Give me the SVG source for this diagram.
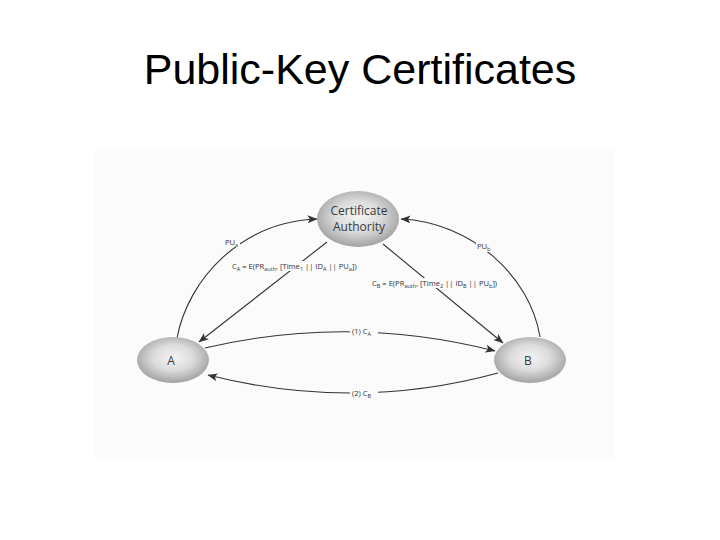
<svg xmlns="http://www.w3.org/2000/svg" width="720" height="540" viewBox="0 0 720 540">
<defs>
<radialGradient id="nodeGrad" cx="50%" cy="45%" r="55%">
<stop offset="0" stop-color="#f4f4f4"/>
<stop offset="0.5" stop-color="#dcdcdc"/>
<stop offset="1" stop-color="#a2a2a2"/>
</radialGradient>
<marker id="arr" viewBox="0 0 10 8" refX="9.5" refY="4" markerWidth="10" markerHeight="8" markerUnits="userSpaceOnUse" orient="auto">
<path d="M0,0 L10,4 L0,8 L2.5,4 Z" fill="#333"/>
</marker>
<style>
.title{font-family:"Liberation Sans",Arial,sans-serif;font-size:43px;fill:#000}
.node{fill:url(#nodeGrad)}
.ntext{font-family:"Open Sans","Liberation Sans",sans-serif;font-size:12px;fill:#3a3a3a;text-anchor:middle}
.conn{fill:none;stroke:#333;stroke-width:1.1}
.lbl{font-family:"Open Sans","Liberation Sans",sans-serif;font-size:7.6px;fill:#333}
.lbg{fill:#fbfbfb}
</style>
</defs>
<rect width="720" height="540" fill="#fff"/>
<text class="title" x="360" y="84" text-anchor="middle">Public-Key Certificates</text>
<rect x="95" y="148" width="520" height="312" fill="#fbfbfb"/>

<g id="connectors">
<path class="conn" d="M177,338 C188,280 240,222 317,219" marker-end="url(#arr)"/>
<path class="conn" d="M540,337 C530,275 470,222 401,219" marker-end="url(#arr)"/>
<path class="conn" d="M327,242 L199,342" marker-end="url(#arr)"/>
<path class="conn" d="M383,244 L503,343" marker-end="url(#arr)"/>
<path class="conn" d="M205,348 Q350,314 495,351" marker-end="url(#arr)"/>
<path class="conn" d="M498,373 Q355,412 208,375" marker-end="url(#arr)"/>
</g>

<g id="labels">
<rect class="lbg" x="224" y="237" width="16" height="10"/>
<text class="lbl" x="225" y="245">PU<tspan font-size="5.5" dy="1.5">a</tspan></text>
<rect class="lbg" x="476" y="241" width="18" height="11"/>
<text class="lbl" x="477" y="249">PU<tspan font-size="5.5" dy="1.5">b</tspan></text>
<rect class="lbg" x="231" y="261" width="134" height="10"/>
<text class="lbl" x="232" y="269">C<tspan font-size="5.5" dy="1.5">A</tspan><tspan dy="-1.5"> = E(PR</tspan><tspan font-size="5.5" dy="1.5">auth</tspan><tspan dy="-1.5">, [Time</tspan><tspan font-size="5.5" dy="1.5">1</tspan><tspan dy="-1.5"> || ID</tspan><tspan font-size="5.5" dy="1.5">A</tspan><tspan dy="-1.5"> || PU</tspan><tspan font-size="5.5" dy="1.5">a</tspan><tspan dy="-1.5">])</tspan></text>
<rect class="lbg" x="371" y="278" width="134" height="10"/>
<text class="lbl" x="372" y="286">C<tspan font-size="5.5" dy="1.5">B</tspan><tspan dy="-1.5"> = E(PR</tspan><tspan font-size="5.5" dy="1.5">auth</tspan><tspan dy="-1.5">, [Time</tspan><tspan font-size="5.5" dy="1.5">2</tspan><tspan dy="-1.5"> || ID</tspan><tspan font-size="5.5" dy="1.5">B</tspan><tspan dy="-1.5"> || PU</tspan><tspan font-size="5.5" dy="1.5">b</tspan><tspan dy="-1.5">])</tspan></text>
<rect class="lbg" x="350" y="326" width="28" height="10"/>
<text class="lbl" x="352" y="334">(1) C<tspan font-size="5.5" dy="1.5">A</tspan></text>
<rect class="lbg" x="350" y="388" width="28" height="10"/>
<text class="lbl" x="352" y="396">(2) C<tspan font-size="5.5" dy="1.5">B</tspan></text>
</g>

<g id="node-ca">
<ellipse class="node" cx="358" cy="219" rx="41" ry="28"/>
<text class="ntext" x="359" y="215">Certificate</text>
<text class="ntext" x="359" y="231">Authority</text>
</g>
<g id="node-a">
<ellipse class="node" cx="173" cy="360" rx="36" ry="23"/>
<text class="ntext" x="171" y="365">A</text>
</g>
<g id="node-b">
<ellipse class="node" cx="530" cy="360" rx="36" ry="23"/>
<text class="ntext" x="528" y="365">B</text>
</g>
</svg>
